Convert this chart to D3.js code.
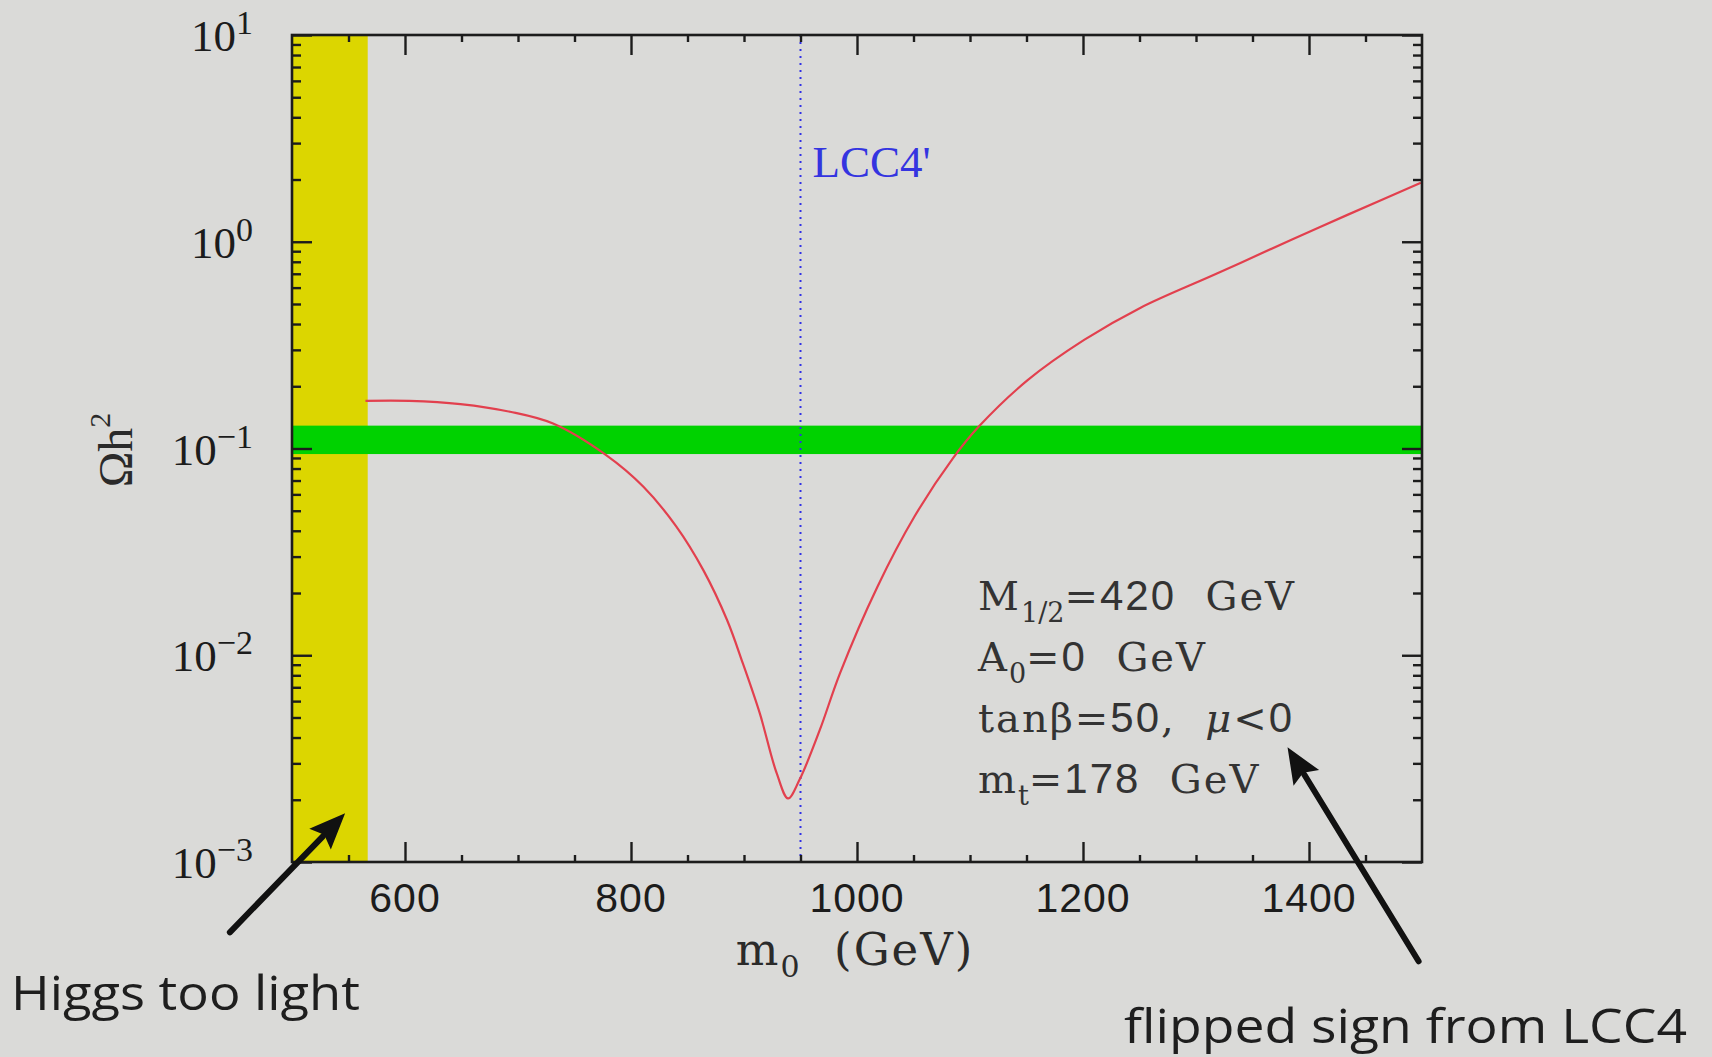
<!DOCTYPE html>
<html>
<head>
<meta charset="utf-8">
<script src="https://cdn.jsdelivr.net/npm/d3@7"></script>
<style>
  html, body { margin: 0; padding: 0; background: #dadad8; }
  svg { display: block; }
</style>
</head>
<body>
<svg id="chart" width="1712" height="1057"></svg>
<script>
// Relic density Omega h^2 along m0 for fixed M1/2, A0, tan(beta), mu<0
const m0Values    = [565, 604, 649, 693, 731, 778, 811, 840, 864, 885, 899, 914, 929, 939, 949, 967, 985, 1018, 1051, 1085, 1108, 1151, 1201, 1251, 1318, 1384, 1434, 1499];
const omegaValues = [0.170, 0.170, 0.164, 0.1505, 0.132, 0.0929, 0.0653, 0.0420, 0.0258, 0.0148, 0.00913, 0.00523, 0.00268, 0.00203, 0.00249, 0.00434, 0.0082, 0.0214, 0.047, 0.0899, 0.128, 0.214, 0.335, 0.480, 0.700, 1.02, 1.349, 1.93];

// WMAP-preferred range and the Higgs-mass excluded strip
const wmapBand = [0.094, 0.129];
const higgsExcludedM0 = [500, 567];

// Benchmark point
const benchmarkM0 = 950;
const benchmarkLabel = "LCC4'";

// Axes
const xDomain = [500, 1500];
const yDomain = [1e-3, 10];
const xMajorTicks = [600, 800, 1000, 1200, 1400];
const xMinorTicks = [550, 650, 700, 750, 850, 900, 950, 1050, 1100, 1150, 1250, 1300, 1350, 1450];
const yMajorTicks = [1e-3, 1e-2, 1e-1, 1, 10];
const yTickExponents = ["−3", "−2", "−1", "0", "1"];
const xTitle = ["m", "0", "  (GeV)"];
const yTitle = ["Ωh", "2"];

// Model parameters (segments starting with "_" are subscripts)
const paramLines = [
  ["M", "_1/2", "=420  GeV"],
  ["A", "_0", "=0  GeV"],
  ["tanβ=50,  μ<0"],
  ["m", "_t", "=178  GeV"]
];

// Annotations: arrow tail/tip in data coordinates
const notes = [
  { text: "Higgs too light", tail: [445, 0.000457], tip: [547, 0.00172] },
  { text: "flipped sign from LCC4", tail: [1497, 0.000331], tip: [1381, 0.00359] }
];

// ---------------------------------------------------------------
const svg = d3.select("#chart");
const plot = { left: 292, right: 1422, top: 35, bottom: 862 };

const x = d3.scaleLinear().domain(xDomain).range([plot.left, plot.right]);
const y = d3.scaleLog().domain(yDomain).range([plot.bottom, plot.top]);

const yMinorTicks = [];
for (let e = -3; e < 1; e++) for (let k = 2; k <= 9; k++) yMinorTicks.push(k * Math.pow(10, e));

const ink = "#1c1c1c";
const serif = "'Liberation Serif', 'Times New Roman', serif";
const wideSerif = "'DejaVu Serif', serif";
const sans = "'Liberation Sans', Arial, sans-serif";

// clip to plot area
svg.append("defs").append("clipPath").attr("id", "plotClip")
  .append("rect")
  .attr("x", plot.left).attr("y", plot.top)
  .attr("width", plot.right - plot.left).attr("height", plot.bottom - plot.top);

const inner = svg.append("g").attr("clip-path", "url(#plotClip)");

// Higgs-excluded strip
inner.append("rect")
  .attr("x", x(higgsExcludedM0[0]))
  .attr("y", plot.top)
  .attr("width", x(higgsExcludedM0[1]) - x(higgsExcludedM0[0]))
  .attr("height", plot.bottom - plot.top)
  .attr("fill", "#dcd600");

// WMAP band
inner.append("rect")
  .attr("x", plot.left)
  .attr("y", y(wmapBand[1]))
  .attr("width", plot.right - plot.left)
  .attr("height", y(wmapBand[0]) - y(wmapBand[1]))
  .attr("fill", "#00d200");

// Benchmark vertical dotted line
inner.append("line")
  .attr("x1", x(benchmarkM0)).attr("x2", x(benchmarkM0))
  .attr("y1", plot.top).attr("y2", plot.bottom)
  .attr("stroke", "#3030e6")
  .attr("stroke-width", 2)
  .attr("stroke-dasharray", "2,5");

// Relic density curve
const curveData = m0Values.map((m, i) => [m, omegaValues[i]]);
inner.append("path")
  .datum(curveData)
  .attr("fill", "none")
  .attr("stroke", "#e2404e")
  .attr("stroke-width", 2.2)
  .attr("d", d3.line().x(d => x(d[0])).y(d => y(d[1])).curve(d3.curveCatmullRom.alpha(0.5)));

// Axes: ticks pointing inwards on all four sides
function tickAxis(gen, values, size, transform) {
  const g = svg.append("g").attr("transform", transform)
    .call(gen.tickValues(values).tickSize(-size).tickFormat(""));
  g.select(".domain").remove();
  g.selectAll(".tick line").attr("stroke", ink).attr("stroke-width", 2.4);
  g.selectAll(".tick text").remove();
  return g;
}
tickAxis(d3.axisBottom(x), xMinorTicks, 7, `translate(0,${plot.bottom})`);
tickAxis(d3.axisBottom(x), xMajorTicks, 20, `translate(0,${plot.bottom})`);
tickAxis(d3.axisTop(x), xMinorTicks, 7, `translate(0,${plot.top})`);
tickAxis(d3.axisTop(x), xMajorTicks, 20, `translate(0,${plot.top})`);
tickAxis(d3.axisLeft(y), yMinorTicks, 9, `translate(${plot.left},0)`);
tickAxis(d3.axisLeft(y), yMajorTicks, 20, `translate(${plot.left},0)`);
tickAxis(d3.axisRight(y), yMinorTicks, 9, `translate(${plot.right},0)`);
tickAxis(d3.axisRight(y), yMajorTicks, 20, `translate(${plot.right},0)`);

// Frame
svg.append("rect")
  .attr("x", plot.left).attr("y", plot.top)
  .attr("width", plot.right - plot.left).attr("height", plot.bottom - plot.top)
  .attr("fill", "none").attr("stroke", ink).attr("stroke-width", 2.6);

// X tick labels
svg.append("g").selectAll("text")
  .data(xMajorTicks).join("text")
  .attr("x", d => x(d))
  .attr("y", plot.bottom + 50)
  .attr("text-anchor", "middle")
  .attr("font-family", sans)
  .attr("font-size", 41)
  .attr("letter-spacing", 1)
  .attr("fill", ink)
  .text(d => d);

// Y tick labels as 10^n
const yLab = svg.append("g").selectAll("text")
  .data(yMajorTicks).join("text")
  .attr("x", 253)
  .attr("y", d => y(d) + 16)
  .attr("text-anchor", "end")
  .attr("font-family", serif)
  .attr("fill", ink);
yLab.append("tspan").attr("font-size", 45).text("10");
yLab.append("tspan").attr("font-size", 34).attr("dy", -17)
  .text((d, i) => yTickExponents[i]);

// Axis titles
const xt = svg.append("text")
  .attr("x", (plot.left + plot.right) / 2 - 2)
  .attr("y", 965)
  .attr("text-anchor", "middle")
  .attr("font-family", wideSerif)
  .attr("font-size", 45)
  .attr("letter-spacing", 2)
  .attr("fill", "#2a2a2a")
  .style("white-space", "pre");
xt.append("tspan").text(xTitle[0]);
xt.append("tspan").attr("font-size", 30).attr("dy", 12).text(xTitle[1]);
xt.append("tspan").attr("dy", -12).text(xTitle[2]);

const yt = svg.append("text")
  .attr("transform", "translate(132,450) rotate(-90)")
  .attr("text-anchor", "middle")
  .attr("font-family", serif)
  .attr("font-size", 48)
  .attr("fill", "#2a2a2a");
yt.append("tspan").text(yTitle[0]);
yt.append("tspan").attr("font-size", 30).attr("dy", -22).text(yTitle[1]);

// Benchmark label
svg.append("text")
  .attr("x", x(benchmarkM0) + 12)
  .attr("y", 177)
  .attr("font-family", serif)
  .attr("font-size", 45)
  .attr("fill", "#3434e0")
  .text(benchmarkLabel);

// Parameter block
const pb = svg.append("g").attr("fill", "#333");
paramLines.forEach((segs, li) => {
  const t = pb.append("text")
    .attr("x", 978)
    .attr("y", 610 + li * 61)
    .attr("font-family", wideSerif)
    .attr("font-size", 40)
    .attr("letter-spacing", 2)
    .style("white-space", "pre");
  let shifted = false;
  segs.forEach(seg => {
    if (seg.startsWith("_")) {
      t.append("tspan").attr("font-size", 27).attr("dy", 12).attr("letter-spacing", 0).text(seg.slice(1));
      shifted = true;
      return;
    }
    // digits set in sans, Greek mu in italic, the rest in serif
    const runs = seg.match(/[0-9]+|μ|[^0-9μ]+/g);
    runs.forEach((r, ri) => {
      const ts = t.append("tspan").text(r);
      if (shifted && ri === 0) { ts.attr("dy", -12); shifted = false; }
      if (/^[0-9]+$/.test(r)) ts.attr("font-family", sans).attr("font-size", 42);
      if (r === "μ") ts.attr("font-style", "italic");
    });
  });
});

// Annotation arrows and texts
function arrow(tail, tip) {
  const x0 = x(tail[0]), y0 = y(tail[1]), x1 = x(tip[0]), y1 = y(tip[1]);
  const ang = Math.atan2(y1 - y0, x1 - x0);
  const L = 36, W = 15;
  const bx = x1 - L * Math.cos(ang), by = y1 - L * Math.sin(ang);
  svg.append("line")
    .attr("x1", x0).attr("y1", y0).attr("x2", bx + 4 * Math.cos(ang)).attr("y2", by + 4 * Math.sin(ang))
    .attr("stroke", "#111").attr("stroke-width", 6).attr("stroke-linecap", "round");
  const px = -Math.sin(ang), py = Math.cos(ang);
  svg.append("path")
    .attr("d", `M${x1},${y1} L${bx + W * px},${by + W * py} L${bx + 6 * Math.cos(ang)},${by + 6 * Math.sin(ang)} L${bx - W * px},${by - W * py} Z`)
    .attr("fill", "#111");
}
notes.forEach(n => arrow(n.tail, n.tip));

const noteFont = "'Open Sans', Lato, sans-serif";
svg.append("text")
  .attr("x", 11).attr("y", 1010)
  .attr("font-family", noteFont).attr("font-size", 47)
  .attr("textLength", 349).attr("lengthAdjust", "spacingAndGlyphs")
  .attr("fill", "#1e1e1e")
  .text(notes[0].text);
svg.append("text")
  .attr("x", 1124).attr("y", 1043)
  .attr("font-family", noteFont).attr("font-size", 47)
  .attr("textLength", 563).attr("lengthAdjust", "spacingAndGlyphs")
  .attr("fill", "#1e1e1e")
  .text(notes[1].text);
</script>
</body>
</html>
